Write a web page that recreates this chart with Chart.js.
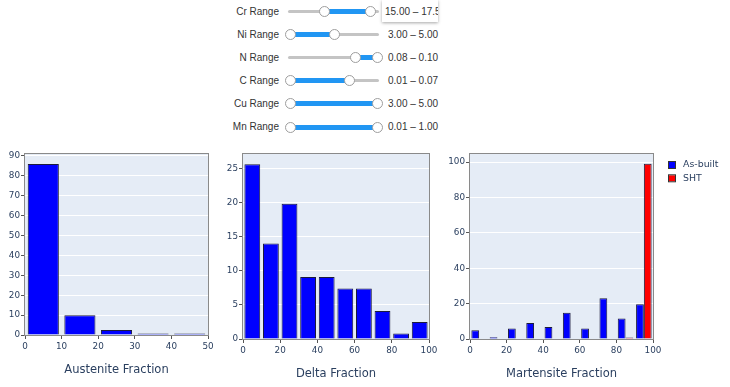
<!DOCTYPE html>
<html>
<head>
<meta charset="utf-8">
<script src="https://cdn.jsdelivr.net/npm/chart.js@4.4.0/dist/chart.umd.min.js"></script>
<style>
  html, body { margin: 0; padding: 0; background: #fff; width: 730px; height: 387px; overflow: hidden; }
  #page { position: relative; width: 730px; height: 387px; }
  .lbl { position: absolute; width: 80px; text-align: right; font: 10px "Liberation Sans", Arial, sans-serif; color: #333; line-height: 12px; }
  .val { position: absolute; font: 10px "Liberation Sans", Arial, sans-serif; color: #333; line-height: 12px; white-space: nowrap; }
  .valbox { position: absolute; background: #fff; box-shadow: 0 1px 3px rgba(0,0,0,0.35); overflow: hidden; }
  .track { position: absolute; height: 3px; background: #c4c4c4; border-radius: 2px; }
  .fill { position: absolute; height: 5px; background: #2196f3; }
  .knob { position: absolute; width: 11px; height: 11px; box-sizing: border-box; border: 1px solid #9e9e9e; border-radius: 50%; background: #fff; }
  canvas { position: absolute; }
</style>
</head>
<body>
<div id="page">
  <div id="sliders"></div>
  <canvas id="austChart" width="225" height="243" style="left:0px;top:144px"></canvas>
  <canvas id="deltaChart" width="225" height="243" style="left:218px;top:144px"></canvas>
  <canvas id="martChart" width="285" height="243" style="left:445px;top:144px"></canvas>
</div>
<script>
// Slider state (labels, shown ranges, knob positions as fraction of track)
const sliderLabels = ['Cr Range', 'Ni Range', 'N Range', 'C Range', 'Cu Range', 'Mn Range'];
const sliderTexts = ['15.00 \u2013 17.5', '3.00 \u2013 5.00', '0.08 \u2013 0.10', '0.01 \u2013 0.07', '3.00 \u2013 5.00', '0.01 \u2013 1.00'];
const sliderLow = [0.40, 0, 0.75, 0, 0, 0];
const sliderHigh = [0.93, 0.51, 1, 0.68, 1, 1];

// Histogram data (percent of samples per 10% bin)
const austeniteBins = [5, 15, 25, 35, 45];
const austenitePct = [86.0, 9.9, 2.5, 0.8, 0.8];
const fractionBins = [5, 15, 25, 35, 45, 55, 65, 75, 85, 95];
const deltaPct = [25.6, 14.0, 19.8, 9.1, 9.1, 7.4, 7.4, 4.1, 0.8, 2.5];
const martAsBuilt = [4.9, 1.0, 5.9, 9.1, 6.8, 14.9, 5.9, 23.0, 11.6, 19.6];
const martSHT = [0, 0, 0, 0, 0, 0, 0, 0, 0.9, 99.1];

// build the slider panel
const panel = document.getElementById('sliders');
const trackX = 290, trackW = 87;
sliderLabels.forEach((name, i) => {
    const cy = 11.5 + i * 23.1;
    let html = '';
    html += `<div class="lbl" style="left:199px;top:${cy - 6}px">${name}</div>`;
    html += `<div class="track" style="left:288px;width:91px;top:${cy - 1.5}px"></div>`;
    const lo = trackX + sliderLow[i] * trackW;
    const hi = trackX + sliderHigh[i] * trackW;
    html += `<div class="fill" style="left:${lo}px;width:${hi - lo}px;top:${cy - 2.5}px"></div>`;
    html += `<div class="knob" style="left:${lo - 5.5}px;top:${cy - 5.5}px"></div>`;
    html += `<div class="knob" style="left:${hi - 5.5}px;top:${cy - 5.5}px"></div>`;
    if (i === 0) {
        html += `<div class="valbox" style="left:382px;top:0px;width:56px;height:22px">` +
                `<div class="val" style="left:3px;top:${cy - 6}px">${sliderTexts[i]}</div></div>`;
    } else {
        html += `<div class="val" style="left:388px;top:${cy - 6}px">${sliderTexts[i]}</div>`;
    }
    panel.insertAdjacentHTML('beforeend', html);
});

const FONT = 'DejaVu Sans, Verdana, sans-serif';
const TEXT = '#2a3f5f';

// plot background + frame, like plotly
const plotFrame = {
    id: 'plotFrame',
    beforeDraw(chart) {
        const a = chart.chartArea, ctx = chart.ctx;
        ctx.save();
        ctx.fillStyle = '#e5ecf6';
        ctx.fillRect(a.left, a.top, a.right - a.left, a.bottom - a.top);
        ctx.restore();
    },
    afterDatasetsDraw(chart) {
        const a = chart.chartArea, ctx = chart.ctx;
        ctx.save();
        ctx.strokeStyle = '#8a8a8a';
        ctx.lineWidth = 1;
        ctx.strokeRect(a.left - 0.5, a.top - 0.5, a.right - a.left + 1, a.bottom - a.top + 1);
        ctx.restore();
    }
};

// legend to the right of the plot
const sideLegend = {
    id: 'sideLegend',
    afterDraw(chart) {
        const a = chart.chartArea, ctx = chart.ctx;
        ctx.save();
        ctx.font = `9.4px ${FONT}`;
        ctx.textBaseline = 'middle';
        chart.data.datasets.forEach((ds, i) => {
            const y = a.top + 11 + i * 13.3;
            const x = a.right + 16;
            ctx.fillStyle = ds.backgroundColor;
            ctx.fillRect(x, y - 3, 6, 6);
            ctx.strokeStyle = '#333';
            ctx.strokeRect(x - 0.5, y - 3.5, 7, 7);
            ctx.fillStyle = TEXT;
            ctx.fillText(ds.label, x + 14, y);
        });
        ctx.restore();
    }
};

function toPoints(xs, ys) {
    return xs.map((x, i) => ({ x: x, y: ys[i] }));
}

function histChart(canvasId, cfg) {
    const ctx = document.getElementById(canvasId);
    const tickFont = { family: FONT, size: 8.8 };
    return new Chart(ctx, {
        type: 'bar',
        data: { datasets: cfg.datasets },
        plugins: cfg.plugins,
        options: {
            responsive: false,
            animation: false,
            layout: { padding: cfg.padding },
            datasets: {
                bar: {
                    categoryPercentage: 0.85,
                    barPercentage: 1,
                    borderWidth: 1,
                    borderColor: '#1c1c3c'
                }
            },
            plugins: {
                legend: { display: false },
                tooltip: { enabled: false }
            },
            scales: {
                x: {
                    type: 'linear',
                    min: 0,
                    max: cfg.xMax,
                    offset: false,
                    ticks: { stepSize: cfg.xStep, font: tickFont, color: TEXT, padding: 2, maxRotation: 0, autoSkip: false },
                    grid: { offset: false, drawOnChartArea: false, tickLength: 4, tickColor: '#555' },
                    border: { display: false },
                    title: {
                        display: true,
                        text: cfg.title,
                        font: { family: FONT, size: 11.5 },
                        color: TEXT,
                        padding: { top: 0, bottom: cfg.titlePad }
                    },
                    afterFit: function(scale) { scale.height = cfg.xHeight; }
                },
                y: {
                    min: 0,
                    max: cfg.yMax,
                    ticks: { stepSize: cfg.yStep, includeBounds: false, font: tickFont, color: TEXT, padding: 1 },
                    grid: { color: '#ffffff', lineWidth: 1, tickLength: 4, tickColor: '#555' },
                    border: { display: false },
                    afterFit: function(scale) { scale.width = 25; }
                }
            }
        }
    });
}

histChart('austChart', {
    title: 'Austenite Fraction',
    xMax: 50, xStep: 10, yMax: 91, yStep: 10,
    padding: { left: 0, top: 10, right: 17, bottom: 0 },
    xHeight: 52, titlePad: 10.2,
    plugins: [plotFrame],
    datasets: [{ label: 'As-built', data: toPoints(austeniteBins, austenitePct), backgroundColor: '#0000ff' }]
});

histChart('deltaChart', {
    title: 'Delta Fraction',
    xMax: 100, xStep: 20, yMax: 27.1, yStep: 5,
    padding: { left: 0, top: 10, right: 14, bottom: 0 },
    xHeight: 48, titlePad: 6.2,
    plugins: [plotFrame],
    datasets: [{ label: 'As-built', data: toPoints(fractionBins, deltaPct), backgroundColor: '#0000ff' }]
});

histChart('martChart', {
    title: 'Martensite Fraction',
    xMax: 100, xStep: 20, yMax: 104.6, yStep: 20,
    padding: { left: 0, top: 10, right: 77, bottom: 0 },
    xHeight: 48, titlePad: 6.2,
    plugins: [plotFrame, sideLegend],
    datasets: [
        { label: 'As-built', data: toPoints(fractionBins, martAsBuilt), backgroundColor: '#0000ff' },
        { label: 'SHT', data: toPoints(fractionBins, martSHT), backgroundColor: '#ff0000' }
    ]
});
</script>
</body>
</html>
